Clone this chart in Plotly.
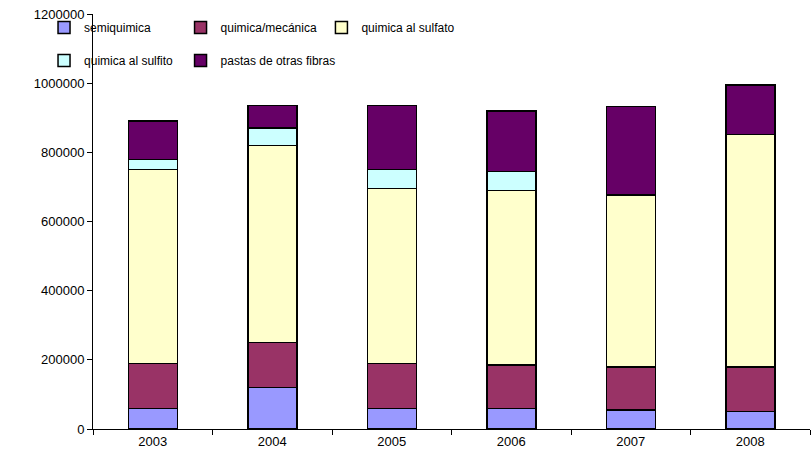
import plotly.graph_objects as go

years = ["2003", "2004", "2005", "2006", "2007", "2008"]
semiquimica = [60000, 120000, 60000, 60000, 55000, 50000]
quimica_mecanica = [130000, 130000, 130000, 125000, 125000, 130000]
quimica_sulfato = [560000, 570000, 505000, 505000, 497000, 672000]
quimica_sulfito = [30000, 50000, 55000, 55000, None, None]
otras_fibras = [111000, 65000, 185000, 175000, 255000, 142000]

series = [
    ("semiquimica", semiquimica, "#9999FF"),
    ("quimica/mecánica", quimica_mecanica, "#993366"),
    ("quimica al sulfato", quimica_sulfato, "#FFFFCC"),
    ("quimica al sulfito", quimica_sulfito, "#CCFFFF"),
    ("pastas de otras fibras", otras_fibras, "#660066"),
]
# legend slot for each series: (x in paper, y in paper)
legend_pos = [(-0.0683, 1.0024), (0.1221, 1.0024), (0.3186, 1.0024),
              (-0.0683, 0.9229), (0.1221, 0.9229)]

fig = go.Figure()
legend_font = dict(family="Liberation Sans, Arial, sans-serif", size=12, color="black")
layout_legends = {}
for i, (name, vals, col) in enumerate(series):
    lg = "legend" if i == 0 else f"legend{i + 1}"
    fig.add_trace(go.Bar(
        x=years, y=vals, name=name, legend=lg, showlegend=True,
        marker=dict(color=col, line=dict(color="black", width=1.5)),
    ))
    lx, ly = legend_pos[i]
    layout_legends[lg] = dict(x=lx, y=ly, xref="paper", yref="paper",
                              xanchor="left", yanchor="top", orientation="h",
                              font=legend_font, bgcolor="rgba(0,0,0,0)", itemwidth=30,
                              visible=True)

font = dict(family="Liberation Sans, Arial, sans-serif", size=13, color="black")

fig.update_layout(
    width=811, height=465,
    showlegend=True,
    margin=dict(l=93, r=1, t=14, b=36, autoexpand=False),
    barmode="stack", bargap=0.59,
    plot_bgcolor="white", paper_bgcolor="white",
    font=font,
    xaxis=dict(showline=True, linecolor="black", linewidth=1, ticks="outside",
               tickson="boundaries", ticklen=5, tickcolor="black", showgrid=False),
    yaxis=dict(range=[0, 1200000], dtick=200000, showline=True, linecolor="black",
               linewidth=1, ticks="outside", ticklen=5, tickcolor="black",
               showgrid=False, tickformat="d", zeroline=False),
    **layout_legends,
)

fig.write_html("out.html", config={"displayModeBar": False},
               post_script="document.body.style.margin='0';")
